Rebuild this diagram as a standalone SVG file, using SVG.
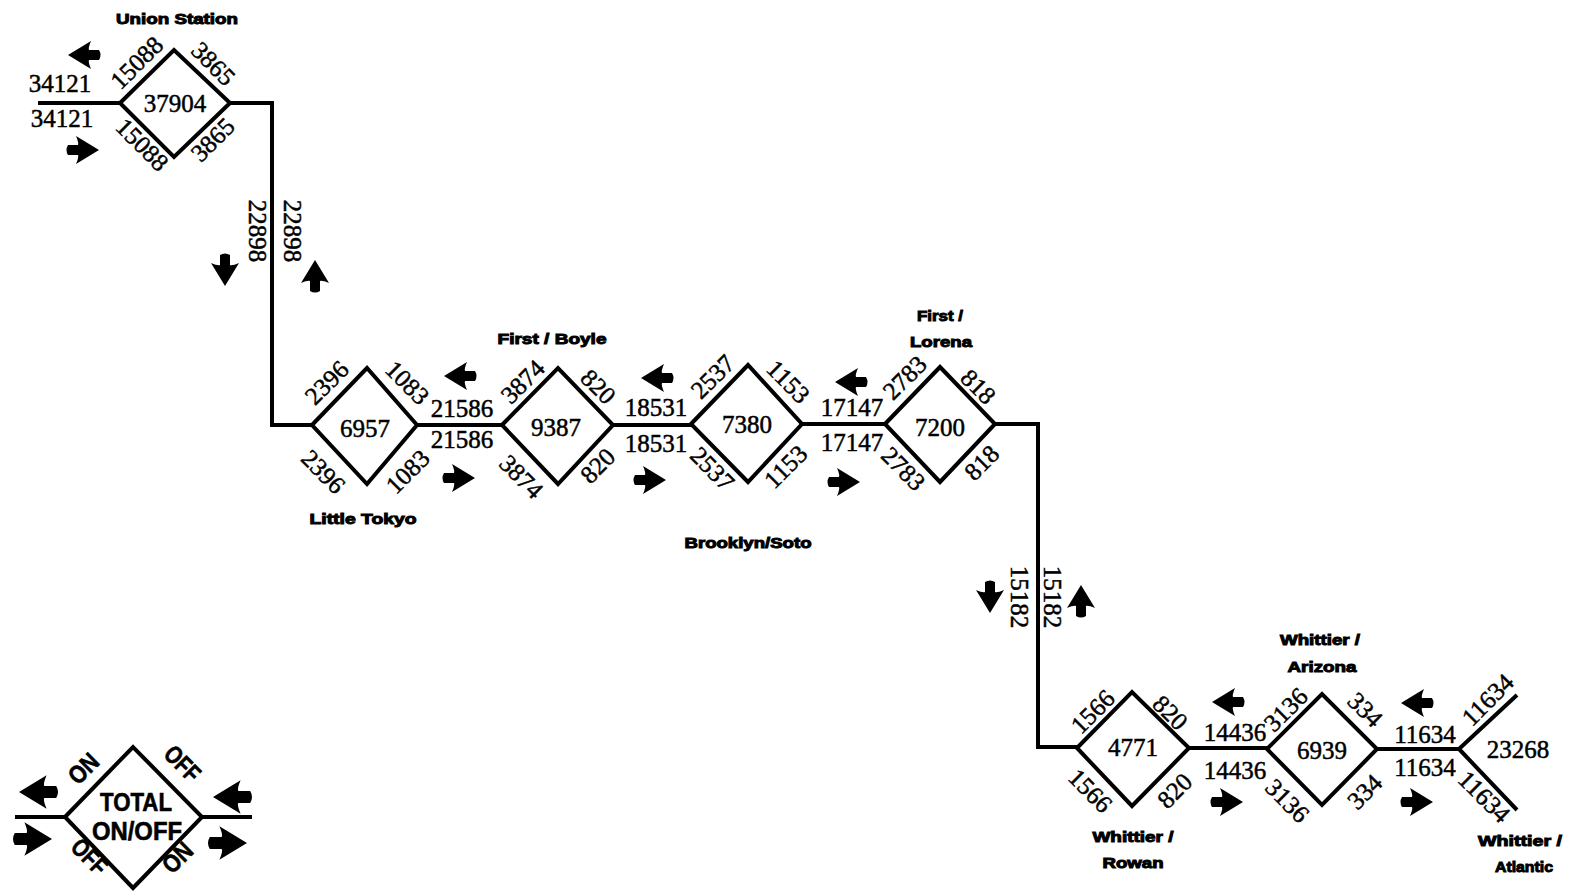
<svg xmlns="http://www.w3.org/2000/svg" xmlns:xlink="http://www.w3.org/1999/xlink" width="1569" height="892" viewBox="0 0 1569 892">
<style>
.bg{fill:#fff}
.d{fill:#fff;stroke:#000;stroke-width:4;stroke-linejoin:miter}
.c{fill:none;stroke:#000;stroke-width:4}
.n{font-family:"Liberation Serif","Times New Roman",serif;font-size:25px;text-anchor:middle;fill:#000;stroke:#000;stroke-width:0.5}
.s{font-family:"Liberation Sans",Arial,sans-serif;font-weight:bold;font-size:15px;text-anchor:middle;fill:#000;stroke:#000;stroke-width:1}
.l{font-family:"Liberation Sans",Arial,sans-serif;font-weight:bold;font-size:25px;text-anchor:middle;fill:#000;stroke:#000;stroke-width:0.6}
</style>
<defs>
<path id="ar" d="M15,0 L-8,-14 Q-5,-7 -6,-5 L-16,-5 Q-19,0 -16,5 L-6,5 Q-5,7 -8,14 Z" fill="#000"/>
</defs>
<rect class="bg" x="0" y="0" width="1569" height="892"/>

<g id="connectors">
<path class="c" d="M38,103 H120"/>
<path class="c" d="M230,103 H272 V425 H312"/>
<path class="c" d="M417,425 H502"/>
<path class="c" d="M613,425 H691"/>
<path class="c" d="M802,424 H885"/>
<path class="c" d="M995,424 H1038 V747 H1077"/>
<path class="c" d="M1189,748 H1267"/>
<path class="c" d="M1377,749 H1459 L1517,695 M1459,749 L1517,810"/>
<g id="arrows">
<use xlink:href="#ar" transform="translate(83,55) rotate(180)"/>
<use xlink:href="#ar" transform="translate(84,150)"/>
<use xlink:href="#ar" transform="translate(225,271) rotate(90)"/>
<use xlink:href="#ar" transform="translate(315,275) rotate(-90)"/>
<use xlink:href="#ar" transform="translate(459,376) rotate(180)"/>
<use xlink:href="#ar" transform="translate(460,478)"/>
<use xlink:href="#ar" transform="translate(656,378) rotate(180)"/>
<use xlink:href="#ar" transform="translate(651,480)"/>
<use xlink:href="#ar" transform="translate(850,382) rotate(180)"/>
<use xlink:href="#ar" transform="translate(845,482)"/>
<use xlink:href="#ar" transform="translate(990,598) rotate(90)"/>
<use xlink:href="#ar" transform="translate(1081,600) rotate(-90)"/>
<use xlink:href="#ar" transform="translate(1227,702) rotate(180)"/>
<use xlink:href="#ar" transform="translate(1228,802)"/>
<use xlink:href="#ar" transform="translate(1416,703) rotate(180)"/>
<use xlink:href="#ar" transform="translate(1418,802)"/>
</g>
<text class="n" x="60" y="92">34121</text>
<text class="n" x="62" y="127">34121</text>
<text class="n" transform="translate(257,231) rotate(90)" y="8">22898</text>
<text class="n" transform="translate(292,231) rotate(90)" y="8">22898</text>
<text class="n" x="462" y="417">21586</text>
<text class="n" x="462" y="448">21586</text>
<text class="n" x="656" y="416">18531</text>
<text class="n" x="656" y="452">18531</text>
<text class="n" x="852" y="416">17147</text>
<text class="n" x="852" y="451">17147</text>
<text class="n" transform="translate(1019,597) rotate(90)" y="8">15182</text>
<text class="n" transform="translate(1052,597) rotate(90)" y="8">15182</text>
<text class="n" x="1235" y="741">14436</text>
<text class="n" x="1235" y="779">14436</text>
<text class="n" x="1425" y="743">11634</text>
<text class="n" x="1425" y="776">11634</text>
</g>

<g id="union-station">
<polygon class="d" points="120,103 174,50 230,103 174,157"/>
<text class="n" x="175" y="112">37904</text>
<text class="n" transform="translate(137,63) rotate(-45)" y="8">15088</text>
<text class="n" transform="translate(213,64) rotate(45)" y="8">3865</text>
<text class="n" transform="translate(142,145) rotate(45)" y="8">15088</text>
<text class="n" transform="translate(213,140) rotate(-45)" y="8">3865</text>
<text class="s" x="177" y="24" textLength="122" lengthAdjust="spacingAndGlyphs">Union Station</text>
</g>

<g id="little-tokyo">
<polygon class="d" points="312,425 367,368 417,425 367,484"/>
<text class="n" x="365" y="437">6957</text>
<text class="n" transform="translate(327,383) rotate(-45)" y="8">2396</text>
<text class="n" transform="translate(407,383) rotate(45)" y="8">1083</text>
<text class="n" transform="translate(323,472) rotate(45)" y="8">2396</text>
<text class="n" transform="translate(408,472) rotate(-45)" y="8">1083</text>
<text class="s" x="363" y="524" textLength="107" lengthAdjust="spacingAndGlyphs">Little Tokyo</text>
</g>

<g id="first-boyle">
<polygon class="d" points="502,425 558,368 613,425 558,484"/>
<text class="n" x="556" y="436">9387</text>
<text class="n" transform="translate(523,382) rotate(-45)" y="8">3874</text>
<text class="n" transform="translate(598,387) rotate(45)" y="8">820</text>
<text class="n" transform="translate(521,477) rotate(45)" y="8">3874</text>
<text class="n" transform="translate(598,466) rotate(-45)" y="8">820</text>
<text class="s" x="552" y="344" textLength="109" lengthAdjust="spacingAndGlyphs">First / Boyle</text>
</g>

<g id="brooklyn-soto">
<polygon class="d" points="691,424 748,365 802,424 748,482"/>
<text class="n" x="747" y="433">7380</text>
<text class="n" transform="translate(713,377) rotate(-45)" y="8">2537</text>
<text class="n" transform="translate(788,382) rotate(45)" y="8">1153</text>
<text class="n" transform="translate(712,469) rotate(45)" y="8">2537</text>
<text class="n" transform="translate(786,467) rotate(-45)" y="8">1153</text>
<text class="s" x="748" y="548" textLength="127" lengthAdjust="spacingAndGlyphs">Brooklyn/Soto</text>
</g>

<g id="first-lorena">
<polygon class="d" points="885,424 940,367 995,424 940,482"/>
<text class="n" x="940" y="436">7200</text>
<text class="n" transform="translate(905,378) rotate(-45)" y="8">2783</text>
<text class="n" transform="translate(978,387) rotate(45)" y="8">818</text>
<text class="n" transform="translate(903,469) rotate(45)" y="8">2783</text>
<text class="n" transform="translate(982,463) rotate(-45)" y="8">818</text>
<text class="s" x="940" y="321" textLength="46" lengthAdjust="spacingAndGlyphs">First /</text>
<text class="s" x="941" y="347" textLength="62" lengthAdjust="spacingAndGlyphs">Lorena</text>
</g>

<g id="whittier-rowan">
<polygon class="d" points="1077,748 1132,692 1189,748 1132,806"/>
<text class="n" x="1133" y="756">4771</text>
<text class="n" transform="translate(1093,712) rotate(-45)" y="8">1566</text>
<text class="n" transform="translate(1170,713) rotate(45)" y="8">820</text>
<text class="n" transform="translate(1090,791) rotate(45)" y="8">1566</text>
<text class="n" transform="translate(1175,791) rotate(-45)" y="8">820</text>
<text class="s" x="1133" y="842" textLength="81" lengthAdjust="spacingAndGlyphs">Whittier /</text>
<text class="s" x="1133" y="868" textLength="61" lengthAdjust="spacingAndGlyphs">Rowan</text>
</g>

<g id="whittier-arizona">
<polygon class="d" points="1267,749 1322,694 1377,749 1322,805"/>
<text class="n" x="1322" y="759">6939</text>
<text class="n" transform="translate(1286,710) rotate(-45)" y="8">3136</text>
<text class="n" transform="translate(1365,710) rotate(45)" y="8">334</text>
<text class="n" transform="translate(1287,801) rotate(45)" y="8">3136</text>
<text class="n" transform="translate(1365,792) rotate(-45)" y="8">334</text>
<text class="s" x="1320" y="645" textLength="80" lengthAdjust="spacingAndGlyphs">Whittier /</text>
<text class="s" x="1322" y="672" textLength="69" lengthAdjust="spacingAndGlyphs">Arizona</text>
</g>

<g id="whittier-atlantic">
<text class="n" transform="translate(1488,700) rotate(-45)" y="8">11634</text>
<text class="n" transform="translate(1484,797) rotate(45)" y="8">11634</text>
<text class="n" x="1518" y="758">23268</text>
<text class="s" x="1520" y="846" textLength="84" lengthAdjust="spacingAndGlyphs">Whittier /</text>
<text class="s" x="1524" y="872" textLength="58" lengthAdjust="spacingAndGlyphs">Atlantic</text>
</g>

<g id="legend">
<path class="c" d="M15,817 H65 M202,817 H252"/>
<polygon class="d" points="65,817 133,747 202,817 133,888"/>
<use xlink:href="#ar" transform="translate(37,792) rotate(180) scale(1.2)"/>
<use xlink:href="#ar" transform="translate(34,839) scale(1.2)"/>
<use xlink:href="#ar" transform="translate(231,797) rotate(180) scale(1.2)"/>
<use xlink:href="#ar" transform="translate(229,843) scale(1.2)"/>
<text class="l" x="136" y="811" textLength="72" lengthAdjust="spacingAndGlyphs">TOTAL</text>
<text class="l" x="137" y="840" textLength="90" lengthAdjust="spacingAndGlyphs">ON/OFF</text>
<text class="l" transform="translate(84,769) rotate(-45)" y="8" textLength="32" lengthAdjust="spacingAndGlyphs">ON</text>
<text class="l" transform="translate(182,764) rotate(45)" y="8" textLength="40" lengthAdjust="spacingAndGlyphs">OFF</text>
<text class="l" transform="translate(89,857) rotate(45)" y="8" textLength="40" lengthAdjust="spacingAndGlyphs">OFF</text>
<text class="l" transform="translate(178,858) rotate(-45)" y="8" textLength="32" lengthAdjust="spacingAndGlyphs">ON</text>
</g>
</svg>
